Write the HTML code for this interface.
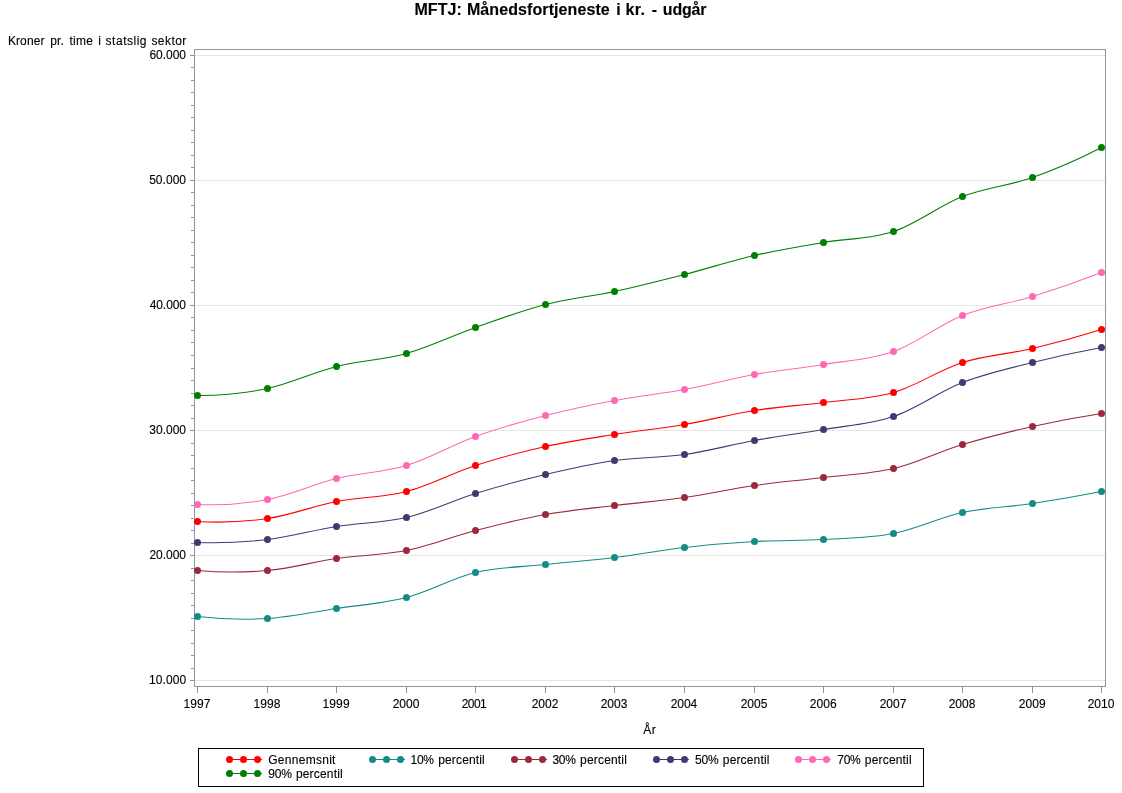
<!DOCTYPE html>
<html><head><meta charset="utf-8"><title>MFTJ</title>
<style>
html,body{margin:0;padding:0;background:#fff;}
body{width:1122px;height:793px;overflow:hidden;font-family:"Liberation Sans",sans-serif;}
svg{display:block;will-change:transform;}
text{font-family:"Liberation Sans",sans-serif;font-size:12px;fill:#000;stroke:#000;stroke-width:0.12px;}
.t{font-size:16px;font-weight:bold;}
</style></head><body>
<svg width="1122" height="793" viewBox="0 0 1122 793">
<rect x="0" y="0" width="1122" height="793" fill="#fff"/>
<g shape-rendering="crispEdges" fill="#e6e6e6">
<rect x="195" y="55" width="910" height="1"/>
<rect x="195" y="180" width="910" height="1"/>
<rect x="195" y="305" width="910" height="1"/>
<rect x="195" y="430" width="910" height="1"/>
<rect x="195" y="555" width="910" height="1"/>
<rect x="195" y="680" width="910" height="1"/>
</g>
<g shape-rendering="crispEdges" fill="#8e979d">
<rect x="194" y="49" width="912" height="1"/>
<rect x="194" y="686" width="912" height="1"/>
<rect x="194" y="49" width="1" height="638"/>
<rect x="1105" y="49" width="1" height="638"/>
<rect x="190" y="55" width="4" height="1"/>
<rect x="191" y="67" width="3" height="1"/>
<rect x="191" y="80" width="3" height="1"/>
<rect x="191" y="92" width="3" height="1"/>
<rect x="191" y="105" width="3" height="1"/>
<rect x="191" y="117" width="3" height="1"/>
<rect x="191" y="130" width="3" height="1"/>
<rect x="191" y="142" width="3" height="1"/>
<rect x="191" y="155" width="3" height="1"/>
<rect x="191" y="167" width="3" height="1"/>
<rect x="190" y="180" width="4" height="1"/>
<rect x="191" y="192" width="3" height="1"/>
<rect x="191" y="205" width="3" height="1"/>
<rect x="191" y="217" width="3" height="1"/>
<rect x="191" y="230" width="3" height="1"/>
<rect x="191" y="242" width="3" height="1"/>
<rect x="191" y="255" width="3" height="1"/>
<rect x="191" y="267" width="3" height="1"/>
<rect x="191" y="280" width="3" height="1"/>
<rect x="191" y="292" width="3" height="1"/>
<rect x="190" y="305" width="4" height="1"/>
<rect x="191" y="317" width="3" height="1"/>
<rect x="191" y="330" width="3" height="1"/>
<rect x="191" y="342" width="3" height="1"/>
<rect x="191" y="355" width="3" height="1"/>
<rect x="191" y="368" width="3" height="1"/>
<rect x="191" y="380" width="3" height="1"/>
<rect x="191" y="393" width="3" height="1"/>
<rect x="191" y="405" width="3" height="1"/>
<rect x="191" y="418" width="3" height="1"/>
<rect x="190" y="430" width="4" height="1"/>
<rect x="191" y="443" width="3" height="1"/>
<rect x="191" y="455" width="3" height="1"/>
<rect x="191" y="468" width="3" height="1"/>
<rect x="191" y="480" width="3" height="1"/>
<rect x="191" y="493" width="3" height="1"/>
<rect x="191" y="505" width="3" height="1"/>
<rect x="191" y="518" width="3" height="1"/>
<rect x="191" y="530" width="3" height="1"/>
<rect x="191" y="543" width="3" height="1"/>
<rect x="190" y="555" width="4" height="1"/>
<rect x="191" y="568" width="3" height="1"/>
<rect x="191" y="580" width="3" height="1"/>
<rect x="191" y="593" width="3" height="1"/>
<rect x="191" y="605" width="3" height="1"/>
<rect x="191" y="618" width="3" height="1"/>
<rect x="191" y="630" width="3" height="1"/>
<rect x="191" y="643" width="3" height="1"/>
<rect x="191" y="655" width="3" height="1"/>
<rect x="191" y="668" width="3" height="1"/>
<rect x="190" y="680" width="4" height="1"/>
<rect x="197" y="687" width="1" height="6"/>
<rect x="267" y="687" width="1" height="6"/>
<rect x="336" y="687" width="1" height="6"/>
<rect x="406" y="687" width="1" height="6"/>
<rect x="475" y="687" width="1" height="6"/>
<rect x="545" y="687" width="1" height="6"/>
<rect x="614" y="687" width="1" height="6"/>
<rect x="684" y="687" width="1" height="6"/>
<rect x="754" y="687" width="1" height="6"/>
<rect x="823" y="687" width="1" height="6"/>
<rect x="893" y="687" width="1" height="6"/>
<rect x="962" y="687" width="1" height="6"/>
<rect x="1032" y="687" width="1" height="6"/>
<rect x="1101" y="687" width="1" height="6"/>
</g>
<path d="M197.50,521.50 C220.83,522.87 244.17,521.87 267.50,518.50 C290.50,515.17 313.50,505.98 336.50,501.50 C359.83,496.96 383.17,497.56 406.50,491.50 C429.50,485.52 452.50,472.95 475.50,465.50 C498.83,457.94 522.17,451.70 545.50,446.50 C568.50,441.38 591.50,438.14 614.50,434.50 C637.83,430.80 661.17,428.50 684.50,424.50 C707.83,420.50 731.17,414.19 754.50,410.50 C777.50,406.87 800.50,405.48 823.50,402.50 C846.83,399.48 870.17,399.24 893.50,392.50 C916.50,385.86 939.50,369.80 962.50,362.50 C985.83,355.09 1009.17,354.05 1032.50,348.50 C1055.50,343.03 1078.50,336.70 1101.50,329.50" fill="none" stroke="#ff0000" stroke-width="1.1"/>
<g fill="#ff0000"><circle cx="197.5" cy="521.5" r="3.50"/><circle cx="267.5" cy="518.5" r="3.50"/><circle cx="336.5" cy="501.5" r="3.50"/><circle cx="406.5" cy="491.5" r="3.50"/><circle cx="475.5" cy="465.5" r="3.50"/><circle cx="545.5" cy="446.5" r="3.50"/><circle cx="614.5" cy="434.5" r="3.50"/><circle cx="684.5" cy="424.5" r="3.50"/><circle cx="754.5" cy="410.5" r="3.50"/><circle cx="823.5" cy="402.5" r="3.50"/><circle cx="893.5" cy="392.5" r="3.50"/><circle cx="962.5" cy="362.5" r="3.50"/><circle cx="1032.5" cy="348.5" r="3.50"/><circle cx="1101.5" cy="329.5" r="3.50"/></g>
<path d="M197.50,616.50 C220.83,619.19 244.17,619.86 267.50,618.50 C290.50,617.16 313.50,611.97 336.50,608.50 C359.83,604.98 383.17,603.56 406.50,597.50 C429.50,591.53 452.50,577.98 475.50,572.50 C498.83,566.94 522.17,567.02 545.50,564.50 C568.50,562.02 591.50,560.31 614.50,557.50 C637.83,554.65 661.17,550.17 684.50,547.50 C707.83,544.83 731.17,542.84 754.50,541.50 C777.50,540.18 800.50,540.82 823.50,539.50 C846.83,538.16 870.17,538.05 893.50,533.50 C916.50,529.01 939.50,517.48 962.50,512.50 C985.83,507.45 1009.17,507.03 1032.50,503.50 C1055.50,500.02 1078.50,496.02 1101.50,491.50" fill="none" stroke="#158b86" stroke-width="1.1"/>
<g fill="#158b86"><circle cx="197.5" cy="616.5" r="3.50"/><circle cx="267.5" cy="618.5" r="3.50"/><circle cx="336.5" cy="608.5" r="3.50"/><circle cx="406.5" cy="597.5" r="3.50"/><circle cx="475.5" cy="572.5" r="3.50"/><circle cx="545.5" cy="564.5" r="3.50"/><circle cx="614.5" cy="557.5" r="3.50"/><circle cx="684.5" cy="547.5" r="3.50"/><circle cx="754.5" cy="541.5" r="3.50"/><circle cx="823.5" cy="539.5" r="3.50"/><circle cx="893.5" cy="533.5" r="3.50"/><circle cx="962.5" cy="512.5" r="3.50"/><circle cx="1032.5" cy="503.5" r="3.50"/><circle cx="1101.5" cy="491.5" r="3.50"/></g>
<path d="M197.50,570.50 C220.83,572.53 244.17,572.53 267.50,570.50 C290.50,568.50 313.50,561.81 336.50,558.50 C359.83,555.14 383.17,555.21 406.50,550.50 C429.50,545.85 452.50,536.46 475.50,530.50 C498.83,524.45 522.17,518.69 545.50,514.50 C568.50,510.37 591.50,508.31 614.50,505.50 C637.83,502.64 661.17,500.83 684.50,497.50 C707.83,494.17 731.17,488.85 754.50,485.50 C777.50,482.20 800.50,480.31 823.50,477.50 C846.83,474.65 870.17,474.06 893.50,468.50 C916.50,463.02 939.50,451.46 962.50,444.50 C985.83,437.44 1009.17,431.70 1032.50,426.50 C1055.50,421.38 1078.50,417.04 1101.50,413.50" fill="none" stroke="#9b283c" stroke-width="1.1"/>
<g fill="#9b283c"><circle cx="197.5" cy="570.5" r="3.50"/><circle cx="267.5" cy="570.5" r="3.50"/><circle cx="336.5" cy="558.5" r="3.50"/><circle cx="406.5" cy="550.5" r="3.50"/><circle cx="475.5" cy="530.5" r="3.50"/><circle cx="545.5" cy="514.5" r="3.50"/><circle cx="614.5" cy="505.5" r="3.50"/><circle cx="684.5" cy="497.5" r="3.50"/><circle cx="754.5" cy="485.5" r="3.50"/><circle cx="823.5" cy="477.5" r="3.50"/><circle cx="893.5" cy="468.5" r="3.50"/><circle cx="962.5" cy="444.5" r="3.50"/><circle cx="1032.5" cy="426.5" r="3.50"/><circle cx="1101.5" cy="413.5" r="3.50"/></g>
<path d="M197.50,542.50 C220.83,543.20 244.17,542.20 267.50,539.50 C290.50,536.84 313.50,530.15 336.50,526.50 C359.83,522.80 383.17,523.06 406.50,517.50 C429.50,512.02 452.50,500.62 475.50,493.50 C498.83,486.28 522.17,480.03 545.50,474.50 C568.50,469.05 591.50,463.82 614.50,460.50 C637.83,457.13 661.17,457.83 684.50,454.50 C707.83,451.17 731.17,444.69 754.50,440.50 C777.50,436.37 800.50,433.47 823.50,429.50 C846.83,425.47 870.17,424.42 893.50,416.50 C916.50,408.70 939.50,391.45 962.50,382.50 C985.83,373.42 1009.17,368.37 1032.50,362.50 C1055.50,356.71 1078.50,351.71 1101.50,347.50" fill="none" stroke="#3c3c73" stroke-width="1.1"/>
<g fill="#3c3c73"><circle cx="197.5" cy="542.5" r="3.50"/><circle cx="267.5" cy="539.5" r="3.50"/><circle cx="336.5" cy="526.5" r="3.50"/><circle cx="406.5" cy="517.5" r="3.50"/><circle cx="475.5" cy="493.5" r="3.50"/><circle cx="545.5" cy="474.5" r="3.50"/><circle cx="614.5" cy="460.5" r="3.50"/><circle cx="684.5" cy="454.5" r="3.50"/><circle cx="754.5" cy="440.5" r="3.50"/><circle cx="823.5" cy="429.5" r="3.50"/><circle cx="893.5" cy="416.5" r="3.50"/><circle cx="962.5" cy="382.5" r="3.50"/><circle cx="1032.5" cy="362.5" r="3.50"/><circle cx="1101.5" cy="347.5" r="3.50"/></g>
<path d="M197.50,504.50 C220.83,505.55 244.17,503.88 267.50,499.50 C290.50,495.18 313.50,484.14 336.50,478.50 C359.83,472.78 383.17,472.57 406.50,465.50 C429.50,458.53 452.50,444.78 475.50,436.50 C498.83,428.10 522.17,421.54 545.50,415.50 C568.50,409.55 591.50,404.81 614.50,400.50 C637.83,396.13 661.17,393.83 684.50,389.50 C707.83,385.17 731.17,378.69 754.50,374.50 C777.50,370.37 800.50,368.30 823.50,364.50 C846.83,360.64 870.17,359.75 893.50,351.50 C916.50,343.36 939.50,324.62 962.50,315.50 C985.83,306.25 1009.17,303.72 1032.50,296.50 C1055.50,289.38 1078.50,281.38 1101.50,272.50" fill="none" stroke="#ff69b4" stroke-width="1.1"/>
<g fill="#ff69b4"><circle cx="197.5" cy="504.5" r="3.50"/><circle cx="267.5" cy="499.5" r="3.50"/><circle cx="336.5" cy="478.5" r="3.50"/><circle cx="406.5" cy="465.5" r="3.50"/><circle cx="475.5" cy="436.5" r="3.50"/><circle cx="545.5" cy="415.5" r="3.50"/><circle cx="614.5" cy="400.5" r="3.50"/><circle cx="684.5" cy="389.5" r="3.50"/><circle cx="754.5" cy="374.5" r="3.50"/><circle cx="823.5" cy="364.5" r="3.50"/><circle cx="893.5" cy="351.5" r="3.50"/><circle cx="962.5" cy="315.5" r="3.50"/><circle cx="1032.5" cy="296.5" r="3.50"/><circle cx="1101.5" cy="272.5" r="3.50"/></g>
<path d="M197.50,395.50 C220.83,395.72 244.17,393.39 267.50,388.50 C290.50,383.68 313.50,372.30 336.50,366.50 C359.83,360.61 383.17,360.06 406.50,353.50 C429.50,347.03 452.50,335.61 475.50,327.50 C498.83,319.27 522.17,310.53 545.50,304.50 C568.50,298.55 591.50,296.46 614.50,291.50 C637.83,286.47 661.17,280.50 684.50,274.50 C707.83,268.50 731.17,260.86 754.50,255.50 C777.50,250.21 800.50,246.47 823.50,242.50 C846.83,238.47 870.17,239.25 893.50,231.50 C916.50,223.86 939.50,205.45 962.50,196.50 C985.83,187.42 1009.17,185.74 1032.50,177.50 C1055.50,169.38 1078.50,159.38 1101.50,147.50" fill="none" stroke="#008000" stroke-width="1.1"/>
<g fill="#008000"><circle cx="197.5" cy="395.5" r="3.50"/><circle cx="267.5" cy="388.5" r="3.50"/><circle cx="336.5" cy="366.5" r="3.50"/><circle cx="406.5" cy="353.5" r="3.50"/><circle cx="475.5" cy="327.5" r="3.50"/><circle cx="545.5" cy="304.5" r="3.50"/><circle cx="614.5" cy="291.5" r="3.50"/><circle cx="684.5" cy="274.5" r="3.50"/><circle cx="754.5" cy="255.5" r="3.50"/><circle cx="823.5" cy="242.5" r="3.50"/><circle cx="893.5" cy="231.5" r="3.50"/><circle cx="962.5" cy="196.5" r="3.50"/><circle cx="1032.5" cy="177.5" r="3.50"/><circle cx="1101.5" cy="147.5" r="3.50"/></g>
<g>
<text class="t" x="414.44" y="15" style="letter-spacing:0.059px">MFTJ:</text>
<text class="t" x="466.94" y="15" style="letter-spacing:0.090px">Månedsfortjeneste</text>
<text class="t" x="616.34" y="15" style="letter-spacing:0.000px">i</text>
<text class="t" x="625.42" y="15" style="letter-spacing:0.374px">kr.</text>
<text class="t" x="651.83" y="15" style="letter-spacing:0.000px">-</text>
<text class="t" x="662.86" y="15" style="letter-spacing:-0.188px">udgår</text>
<text x="7.91" y="45" style="letter-spacing:0.108px">Kroner</text>
<text x="50.21" y="45" style="letter-spacing:0.171px">pr.</text>
<text x="69.45" y="45" style="letter-spacing:0.308px">time</text>
<text x="98.31" y="45" style="letter-spacing:0.000px">i</text>
<text x="105.62" y="45" style="letter-spacing:0.507px">statslig</text>
<text x="151.43" y="45" style="letter-spacing:0.453px">sektor</text>
<text x="149.41" y="59" style="letter-spacing:-0.013px">60.000</text>
<text x="149.15" y="184" style="letter-spacing:0.040px">50.000</text>
<text x="149.65" y="309" style="letter-spacing:-0.060px">40.000</text>
<text x="149.29" y="434" style="letter-spacing:0.010px">30.000</text>
<text x="149.40" y="559" style="letter-spacing:-0.010px">20.000</text>
<text x="149.00" y="684" style="letter-spacing:0.070px">10.000</text>
<text x="183.40" y="708" style="letter-spacing:0.132px">1997</text>
<text x="253.40" y="708" style="letter-spacing:0.124px">1998</text>
<text x="322.40" y="708" style="letter-spacing:0.157px">1999</text>
<text x="392.64" y="708" style="letter-spacing:0.038px">2000</text>
<text x="461.64" y="708" style="letter-spacing:-0.517px">2001</text>
<text x="531.64" y="708" style="letter-spacing:0.055px">2002</text>
<text x="600.64" y="708" style="letter-spacing:0.073px">2003</text>
<text x="670.64" y="708" style="letter-spacing:-0.030px">2004</text>
<text x="740.64" y="708" style="letter-spacing:0.044px">2005</text>
<text x="809.64" y="708" style="letter-spacing:0.092px">2006</text>
<text x="879.64" y="708" style="letter-spacing:0.052px">2007</text>
<text x="948.64" y="708" style="letter-spacing:0.045px">2008</text>
<text x="1018.64" y="708" style="letter-spacing:0.078px">2009</text>
<text x="1087.64" y="708" style="letter-spacing:0.038px">2010</text>
<text x="643.13" y="734" style="letter-spacing:0.646px">År</text>
<text x="268.25" y="764" style="letter-spacing:0.276px">Gennemsnit</text>
<text x="410.58" y="764" style="letter-spacing:-0.369px">10%</text>
<text x="438.21" y="764" style="letter-spacing:0.146px">percentil</text>
<text x="552.38" y="764" style="letter-spacing:-0.284px">30%</text>
<text x="580.08" y="764" style="letter-spacing:0.176px">percentil</text>
<text x="695.12" y="764" style="letter-spacing:-0.284px">50%</text>
<text x="722.81" y="764" style="letter-spacing:0.155px">percentil</text>
<text x="837.20" y="764" style="letter-spacing:-0.216px">70%</text>
<text x="864.83" y="764" style="letter-spacing:0.178px">percentil</text>
<text x="268.36" y="778" style="letter-spacing:-0.193px">90%</text>
<text x="295.88" y="778" style="letter-spacing:0.187px">percentil</text>
</g>
<rect x="198.5" y="748.5" width="725" height="38" fill="none" stroke="#000" stroke-width="1" shape-rendering="crispEdges"/>
<rect x="226" y="759" width="36" height="1" fill="#ff0000" shape-rendering="crispEdges"/>
<g fill="#ff0000"><circle cx="229.5" cy="759.5" r="3.50"/><circle cx="243.5" cy="759.5" r="3.50"/><circle cx="257.5" cy="759.5" r="3.50"/></g>
<rect x="369" y="759" width="36" height="1" fill="#158b86" shape-rendering="crispEdges"/>
<g fill="#158b86"><circle cx="372.5" cy="759.5" r="3.50"/><circle cx="386.5" cy="759.5" r="3.50"/><circle cx="400.5" cy="759.5" r="3.50"/></g>
<rect x="511" y="759" width="36" height="1" fill="#9b283c" shape-rendering="crispEdges"/>
<g fill="#9b283c"><circle cx="514.5" cy="759.5" r="3.50"/><circle cx="528.5" cy="759.5" r="3.50"/><circle cx="542.5" cy="759.5" r="3.50"/></g>
<rect x="653" y="759" width="36" height="1" fill="#3c3c73" shape-rendering="crispEdges"/>
<g fill="#3c3c73"><circle cx="656.5" cy="759.5" r="3.50"/><circle cx="670.5" cy="759.5" r="3.50"/><circle cx="684.5" cy="759.5" r="3.50"/></g>
<rect x="795" y="759" width="36" height="1" fill="#ff69b4" shape-rendering="crispEdges"/>
<g fill="#ff69b4"><circle cx="798.5" cy="759.5" r="3.50"/><circle cx="812.5" cy="759.5" r="3.50"/><circle cx="826.5" cy="759.5" r="3.50"/></g>
<rect x="226" y="773" width="36" height="1" fill="#008000" shape-rendering="crispEdges"/>
<g fill="#008000"><circle cx="229.5" cy="773.5" r="3.50"/><circle cx="243.5" cy="773.5" r="3.50"/><circle cx="257.5" cy="773.5" r="3.50"/></g>
</svg></body></html>
